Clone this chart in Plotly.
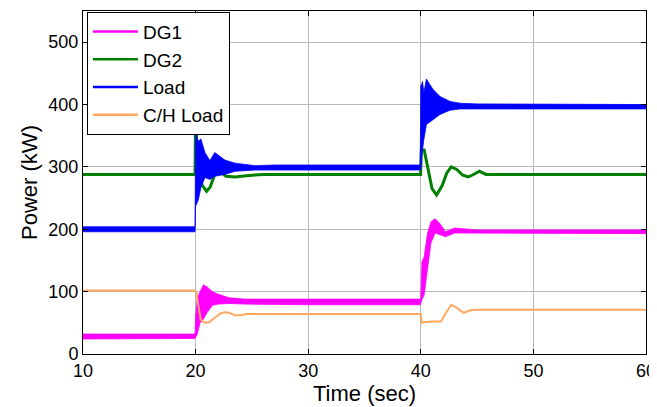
import plotly.graph_objects as go

# ---- data ----
# DG1 (magenta) envelope of the ripple band
dg1_t  = [10, 19.95, 20.0, 20.15, 20.4, 20.7, 21.0, 21.5, 22.0, 23.0, 24.4, 26, 30, 39.95, 40.0, 40.1, 40.3, 40.6, 40.9, 41.27, 41.65, 42.2, 43.0, 45, 60]
dg1_hi = [32, 32, 60, 90, 100, 111, 108, 100, 96, 90, 88, 88, 88, 88, 88, 148, 156, 194, 212, 217, 210, 196, 202, 199, 199]
dg1_lo = [24, 25, 28, 32, 50, 56, 66, 78, 80, 81, 80, 79, 79, 79, 80, 87, 95, 140, 178, 194, 191, 188, 194, 193, 193]

# DG2 (green)
dg2_t = [10, 19.95, 20.02, 20.1, 20.3, 20.6, 20.98, 21.3, 21.7, 22.2, 22.7, 23.5, 24.5, 26, 39.98, 40.05, 40.3, 40.6, 41.0, 41.4, 41.9, 42.3, 42.7, 43.2, 43.7, 44.2, 44.6, 45.2, 45.8, 60]
dg2_v = [288, 288, 420, 330, 285, 270, 261, 268, 288, 292, 285, 284, 286, 288, 288, 327, 327, 300, 265, 255, 270, 290, 300, 296, 287, 284, 287, 293, 288, 288]

# Load (blue) envelope of the ripple band
load_t  = [10, 19.95, 20.0, 20.24, 20.47, 20.83, 21.27, 21.7, 22.6, 23.5, 25.3, 27, 39.95, 40.0, 40.1, 40.15, 40.27, 40.5, 40.8, 41.1, 41.7, 42.6, 43.5, 45, 60]
load_hi = [204, 204, 352, 341, 345, 323, 310, 323, 311, 306, 302, 303, 303, 430, 434, 437, 419, 441, 432, 424, 413, 405, 402, 401, 400]
load_lo = [196, 196, 237, 247, 267, 283, 280, 285, 288, 293, 295, 295, 295, 297, 320, 330, 344, 368, 372, 376, 384, 391, 393, 393, 393]

# C/H Load (orange)
ch_t = [10, 19.95, 20.05, 20.45, 20.8, 21.2, 21.7, 22.2, 22.6, 23.0, 23.5, 24.0, 24.5, 39.98, 40.1, 40.3, 41.0, 41.8, 42.2, 42.7, 43.2, 43.8, 44.4, 45, 60]
ch_v = [102, 102, 100, 55, 50, 51, 58, 65, 67, 66, 62, 62, 64, 64, 50, 51, 52, 52, 65, 79, 74, 66, 70, 71, 71]

series_names = ["DG1", "DG2", "Load", "C/H Load"]
colors = {"DG1": "#ff00ff", "DG2": "#008000", "Load": "#0000ff", "C/H Load": "#ffa860"}

x_ticks = [10, 20, 30, 40, 50, 60]
y_ticks = [0, 100, 200, 300, 400, 500]

FONT = "Liberation Sans"

fig = go.Figure()

def band(t, hi, lo, color):
    return go.Scatter(x=t + t[::-1], y=hi + lo[::-1], fill="toself", fillcolor=color,
                      mode="lines", line=dict(color=color, width=0.8),
                      showlegend=False, hoverinfo="skip")

fig.add_trace(band(dg1_t, dg1_hi, dg1_lo, colors["DG1"]))
fig.add_trace(go.Scatter(x=dg2_t, y=dg2_v, mode="lines", line=dict(color=colors["DG2"], width=3),
                         showlegend=False))
fig.add_trace(band(load_t, load_hi, load_lo, colors["Load"]))
fig.add_trace(go.Scatter(x=ch_t, y=ch_v, mode="lines", line=dict(color=colors["C/H Load"], width=2),
                         showlegend=False))

for name in series_names:
    fig.add_trace(go.Scatter(x=[None], y=[None], mode="lines", name=name,
                             line=dict(color=colors[name], width=2.5)))

axis_common = dict(showline=True, linecolor="black", linewidth=1, mirror="ticks",
                   ticks="inside", ticklen=5, tickcolor="black", showgrid=True,
                   gridcolor="#b8b8b8", gridwidth=1, zeroline=False, automargin=False,
                   tickfont=dict(family=FONT, size=18, color="black"))

# page body has an 8px default margin, so the figure is 649x399 and offset by 8px
fig.update_layout(
    width=649, height=399,
    margin=dict(l=75, r=11, t=3, b=53),
    paper_bgcolor="white", plot_bgcolor="white",
    font=dict(family=FONT, color="black"),
    xaxis=dict(range=[10, 60], tickvals=x_ticks,
               title=dict(text="Time (sec)", font=dict(family=FONT, size=22), standoff=2), **axis_common),
    yaxis=dict(range=[0, 550], tickvals=y_ticks,
               title=dict(text="Power (kW)", font=dict(family=FONT, size=22), standoff=4), **axis_common),
    legend=dict(x=0.007, y=0.998, xanchor="left", yanchor="top",
                bgcolor="white", bordercolor="black", borderwidth=1,
                font=dict(family=FONT, size=19, color="black"),
                itemwidth=45, tracegroupgap=0),
    showlegend=True,
)

fig.write_html("out.html")
